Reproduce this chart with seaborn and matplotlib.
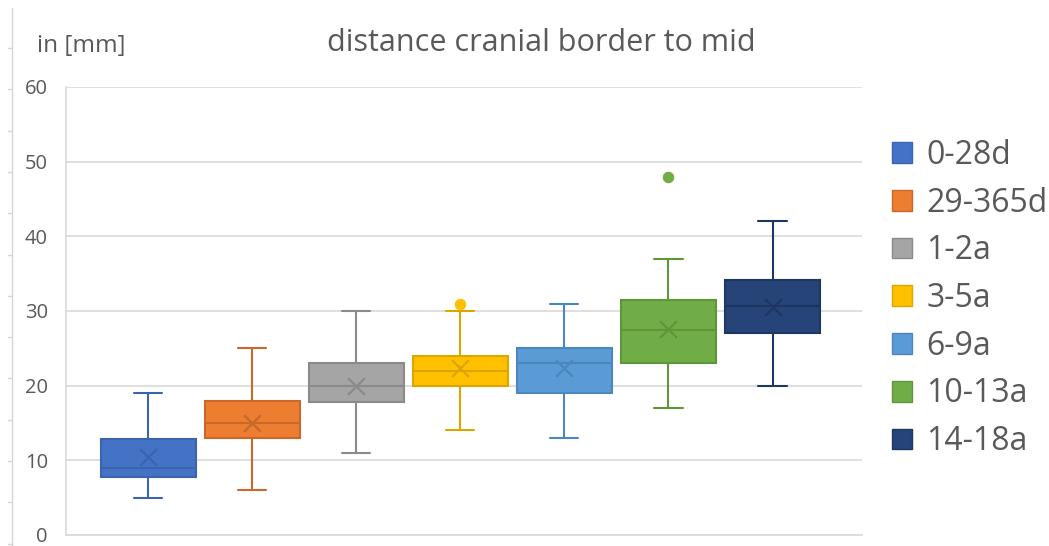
import numpy as np
import pandas as pd
import seaborn as sns
import matplotlib.pyplot as plt
from matplotlib.patches import Patch
from matplotlib.lines import Line2D

# values (mm)
groups = ['0-28d', '29-365d', '1-2a', '3-5a', '6-9a', '10-13a', '14-18a']
whisker_low = [5, 6, 11, 14, 13, 17, 20]
q1 = [7.8, 13, 17.8, 20, 19, 23, 27]
median = [9, 15, 20, 22, 23, 27.5, 30.7]
q3 = [12.8, 18, 23, 24, 25, 31.5, 34.2]
whisker_high = [19, 25, 30, 30, 31, 37, 42]
means = [10.4, 15, 20, 22.3, 22.3, 27.6, 30.5]
outlier_groups = ['3-5a', '10-13a']
outlier_values = [31, 48]

fills = ['#4472C4', '#ED7D31', '#A5A5A5', '#FFC000', '#5B9BD5', '#70AD47', '#264478']
edges = ['#3A64B0', '#C8682A', '#8A8A8A', '#DBA600', '#4A86C0', '#5E9639', '#1E3762']

sns.set_theme(style='white')
plt.rcParams['font.family'] = ['Open Sans', 'DejaVu Sans']
text_col = '#595959'

# five-number summary per group -> long table
rows = []
for i, g in enumerate(groups):
    for v in (whisker_low[i], q1[i], median[i], q3[i], whisker_high[i]):
        rows.append({'group': g, 'value': v})
df = pd.DataFrame(rows)

fig = plt.figure(figsize=(10.49, 5.46), dpi=100)
ax = fig.add_axes([66 / 1049, 11 / 546, 796 / 1049, 448 / 546])

for i, g in enumerate(groups):
    sns.boxplot(data=df[df.group == g], x='group', y='value', order=groups,
                color=fills[i], linecolor=edges[i], saturation=1, width=0.91,
                whis=(0, 100), showfliers=False, linewidth=1.5,
                capwidths=0.27, ax=ax)

pal = dict(zip(groups, edges))
sns.stripplot(x=groups, y=means, order=groups, hue=groups, palette=pal,
              jitter=False, marker='x', size=12, linewidth=1.6,
              legend=False, ax=ax)

out_fill = {g: fills[groups.index(g)] for g in outlier_groups}
sns.stripplot(x=outlier_groups, y=outlier_values, order=groups,
              hue=outlier_groups, palette=out_fill, jitter=False,
              marker='o', size=7.5, linewidth=0.8, edgecolor='face',
              legend=False, ax=ax)

ax.set_xlim(-0.79, 6.86)
ax.set_ylim(0, 60)
ax.set_yticks(range(0, 61, 10))
ax.yaxis.grid(True, color='#D9D9D9', linewidth=1.2)
ax.set_axisbelow(True)
ax.set_xticks([])
ax.set_xlabel('')
ax.set_ylabel('')
ax.tick_params(axis='y', length=0, pad=13, labelsize=14.5, labelcolor=text_col)
for s in ['top', 'right']:
    ax.spines[s].set_visible(False)
for s in ['left', 'bottom']:
    ax.spines[s].set_color('#D9D9D9')
    ax.spines[s].set_linewidth(1.2)

fig.text(0.516, 1 - 43 / 546, 'distance cranial border to mid', ha='center',
         va='center', fontsize=22, color=text_col)
fig.text(37 / 1049, 1 - 46 / 546, 'in [mm]', ha='left', va='center',
         fontsize=17.5, color=text_col)

handles = [Patch(facecolor=fills[i], edgecolor=edges[i], linewidth=1)
           for i in range(len(groups))]
fig.legend(handles, groups, loc='upper left', bbox_to_anchor=(892 / 1049, 1 - 139 / 546),
           frameon=False, fontsize=23, labelcolor=text_col, handlelength=0.62,
           handleheight=0.62, handletextpad=0.45, labelspacing=0.46,
           borderaxespad=0, borderpad=0)

# thin ruler line at the left edge of the screenshot
fig.add_artist(Line2D([12 / 1049, 12 / 1049], [0, 1 - 8 / 546], color='#D6D6D6', linewidth=1))
for yy in np.arange(48, 546, 41.3):
    fig.add_artist(Line2D([8 / 1049, 12 / 1049], [1 - yy / 546, 1 - yy / 546],
                          color='#D6D6D6', linewidth=1))

fig.savefig('out.png', dpi=100)
